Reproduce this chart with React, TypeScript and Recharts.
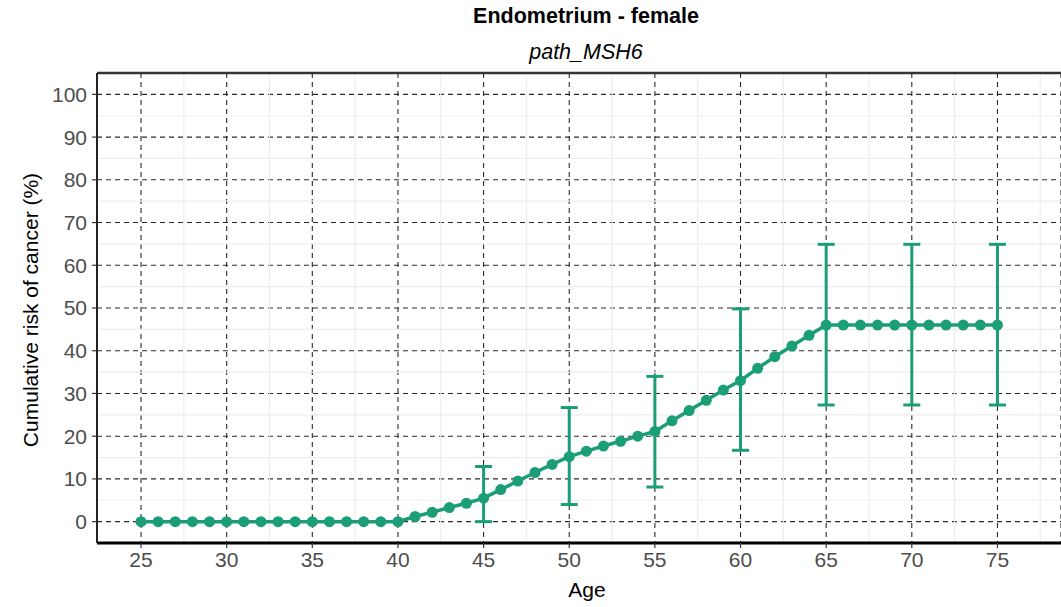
import {
  ComposedChart,
  Line,
  Scatter,
  ErrorBar,
  XAxis,
  YAxis,
  CartesianGrid,
  ReferenceLine,
} from "recharts";

const AGES = [
  25, 26, 27, 28, 29, 30, 31, 32, 33, 34, 35, 36, 37, 38, 39, 40,
  41, 42, 43, 44, 45, 46, 47, 48, 49, 50, 51, 52, 53, 54, 55, 56,
  57, 58, 59, 60, 61, 62, 63, 64, 65, 66, 67, 68, 69, 70, 71, 72,
  73, 74, 75,
];
const RISK = [
  0, 0, 0, 0, 0, 0, 0, 0, 0, 0, 0, 0, 0, 0, 0, 0,
  1.2, 2.2, 3.3, 4.3, 5.5, 7.5, 9.5, 11.5, 13.4, 15.2, 16.5, 17.7, 18.8, 20.0, 21.1, 23.6,
  26.0, 28.4, 30.8, 33.0, 35.9, 38.6, 41.1, 43.6, 46.0, 46.0, 46.0, 46.0, 46.0, 46.0, 46.0, 46.0,
  46.0, 46.0, 46.0,
];
const CI_AGES = [45, 50, 55, 60, 65, 70, 75];
const CI_LOW = [0, 4.0, 8.1, 16.7, 27.3, 27.3, 27.3];
const CI_HIGH = [12.9, 26.7, 34.0, 49.8, 64.9, 64.9, 64.9];

const X_TICKS = [25, 30, 35, 40, 45, 50, 55, 60, 65, 70, 75];
const Y_TICKS = [0, 10, 20, 30, 40, 50, 60, 70, 80, 90, 100];
const MINOR_X = [27.5, 32.5, 37.5, 42.5, 47.5, 52.5, 57.5, 62.5, 67.5, 72.5, 77.5];
const MINOR_Y = [5, 15, 25, 35, 45, 55, 65, 75, 85, 95];

const GREEN = "#1B9E77";
const FONT = "'Liberation Sans', Arial, Helvetica, sans-serif";
const W = 1061;
const H = 607;

const data = AGES.map((age, i) => ({ age, risk: RISK[i] }));
const ciData = CI_AGES.map((age, i) => {
  const r = RISK[AGES.indexOf(age)];
  return { age, risk: r, err: [r - CI_LOW[i], CI_HIGH[i] - r] };
});

export default function App() {
  const tick = { fill: "#4D4D4D", fontSize: 21, fontFamily: FONT };
  return (
    <div style={{ position: "absolute", left: 0, top: 0, width: W, height: H, background: "#fff" }}>
      <ComposedChart
        width={W}
        height={H}
        data={data}
        margin={{ top: 73, right: 0, bottom: 0, left: 0 }}
      >
        <CartesianGrid stroke="#2a2a2a" strokeWidth={1.1} strokeDasharray="5 4" />
        {MINOR_X.map((v) => (
          <ReferenceLine key={`mx${v}`} x={v} stroke="#EDEDED" strokeWidth={1.2} />
        ))}
        {MINOR_Y.map((v) => (
          <ReferenceLine key={`my${v}`} y={v} stroke="#EDEDED" strokeWidth={1.2} />
        ))}
        <ReferenceLine y={105} stroke="#333" strokeWidth={2.5} />
        <XAxis
          dataKey="age"
          type="number"
          domain={[22.43, 78.71]}
          allowDataOverflow
          ticks={X_TICKS}
          height={64}
          tick={tick}
          tickSize={5}
          tickMargin={4}
          axisLine={{ stroke: "#000", strokeWidth: 3 }}
          tickLine={{ stroke: "#333", strokeWidth: 1.2 }}
        />
        <YAxis
          type="number"
          domain={[-5, 105]}
          allowDataOverflow
          ticks={Y_TICKS}
          width={97}
          tick={tick}
          tickSize={5}
          tickMargin={5}
          axisLine={{ stroke: "#222", strokeWidth: 2 }}
          tickLine={{ stroke: "#333", strokeWidth: 1.2 }}
        />
        <Scatter data={ciData} dataKey="risk" shape={() => <g />} isAnimationActive={false}>
          <ErrorBar dataKey="err" direction="y" width={8.5} stroke={GREEN} strokeWidth={3} />
        </Scatter>
        <Line
          dataKey="risk"
          stroke={GREEN}
          strokeWidth={3.5}
          dot={{ r: 5.5, fill: GREEN, stroke: GREEN, strokeWidth: 0 }}
          activeDot={false}
          isAnimationActive={false}
        />
      </ComposedChart>
      <svg
        width={W}
        height={H}
        style={{ position: "absolute", left: 0, top: 0, pointerEvents: "none" }}
      >
        <text x={586} y={23} textAnchor="middle" fontFamily={FONT} fontSize={21.5} fontWeight="bold" fill="#000">
          Endometrium - female
        </text>
        <text x={586} y={59} textAnchor="middle" fontFamily={FONT} fontSize={21.5} fontStyle="italic" fill="#000">
          path_MSH6
        </text>
        <text x={587} y={597} textAnchor="middle" fontFamily={FONT} fontSize={21} fill="#000">
          Age
        </text>
        <text
          x={38}
          y={310}
          textAnchor="middle"
          fontFamily={FONT}
          fontSize={21}
          fill="#000"
          transform="rotate(-90 38 310)"
        >
          Cumulative risk of cancer (%)
        </text>
      </svg>
    </div>
  );
}
